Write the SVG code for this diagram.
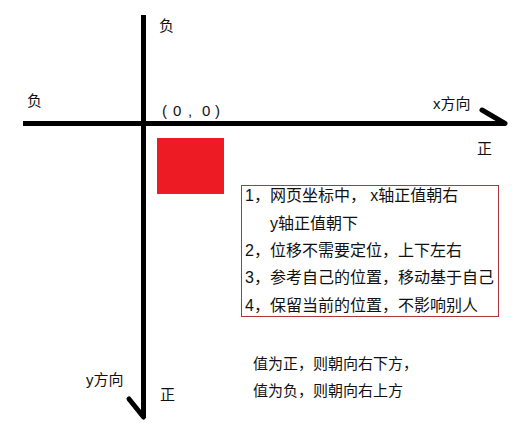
<svg xmlns="http://www.w3.org/2000/svg" width="520" height="434" viewBox="0 0 520 434">
<style>
.ax{stroke:#000;stroke-width:5;fill:none}
.t{font-family:"Liberation Sans","Noto Sans CJK SC",sans-serif;fill:#111}
.m{font-size:16px}
.s{font-size:15px}
</style>
<rect width="520" height="434" fill="#fff"/>
<g id="connectors">
<line class="ax" x1="23" y1="123.5" x2="505" y2="123.5"/>
<line class="ax" x1="482" y1="110" x2="505" y2="123.5" stroke-linecap="round"/>
<line class="ax" x1="143.5" y1="15" x2="143.5" y2="418"/>
<line class="ax" x1="129" y1="399" x2="143.5" y2="417" stroke-linecap="round"/>
</g>
<g id="labels" class="t s">
<text x="159" y="31">负</text>
<text x="27" y="106">负</text>
<text x="162 173 188 202 215" y="116">(0,0)</text>
<text x="433" y="109">x方向</text>
<text x="477" y="154">正</text>
<text x="86" y="385">y方向</text>
<text x="160" y="400">正</text>
</g>
<g id="square"><rect x="157" y="138" width="67" height="56" fill="#ed1c24"/></g>
<g id="notes">
<rect x="241.5" y="185.5" width="257" height="131" fill="none" stroke="#b0353f" stroke-width="1"/>
<g class="t m">
<text x="245" y="201">1，网页坐标中， x轴正值朝右</text>
<text x="270" y="229">y轴正值朝下</text>
<text x="245" y="256">2，位移不需要定位，上下左右</text>
<text x="245" y="283">3，参考自己的位置，移动基于自己</text>
<text x="245" y="311">4，保留当前的位置，不影响别人</text>
</g>
</g>
<g id="rule" class="t s">
<text x="253" y="369">值为正，则朝向右下方，</text>
<text x="253" y="396">值为负，则朝向右上方</text>
</g>
</svg>
